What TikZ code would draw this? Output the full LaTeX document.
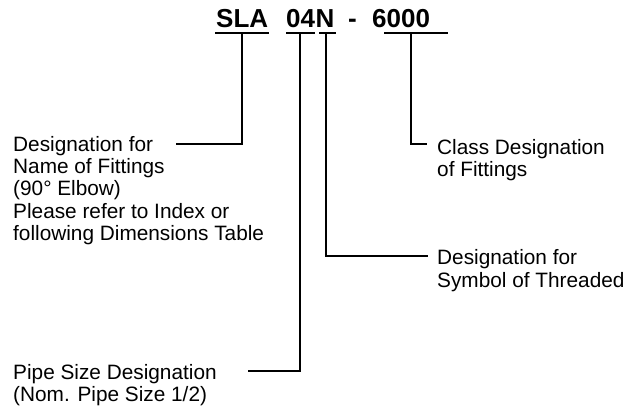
\documentclass[tikz,border=0pt]{standalone}
\usepackage{fontspec}
\setmainfont{Liberation Sans}
\tikzset{%
	codetext/.style = {font=\fontsize{26}{28}\selectfont\bfseries,inner sep=0,anchor=base west},
	desctext/.style = {font=\fontsize{20.8}{22.3}\selectfont,inner sep=0,align=left,anchor=north west},
	lead/.style = {line width=1.1pt}%
}
\begin{document}
\begin{tikzpicture}[x=1pt,y=-1pt]
			\useasboundingbox (0,0) rectangle (641,410);
			
			% designation code
			\node[codetext](sla)at(216,27){SLA};
			\node[codetext](size)at(286,27){04};
			\node[codetext](thread)at(size.base east){N};
			\node[codetext](dash)at(348,27){-};
			\node[codetext](class)at(372,27){6000};
			
			% descriptions
			\node[desctext](name)at(13,136){Designation for\\Name of Fittings\\(90° Elbow)\\Please refer to Index or\\following Dimensions Table};
			\node[desctext](classdesc)at(437,139){Class Designation\\of Fittings};
			\node[desctext](threaddesc)at(437,249.5){Designation for\\Symbol of Threaded};
			\node[desctext](sizedesc)at(13,364){Pipe Size Designation\\(Nom. Pipe Size 1/2)};
			
			% underlines
			\coordinate(sla-a)at(215,33);   \coordinate(sla-b)at(269,33);   \coordinate(sla-m)at(242,33);
			\coordinate(size-a)at(286,33);  \coordinate(size-b)at(315,33);  \coordinate(size-m)at(300,33);
			\coordinate(thread-a)at(319,33);\coordinate(thread-b)at(336,33);\coordinate(thread-m)at(326,33);
			\coordinate(class-a)at(384,33); \coordinate(class-b)at(448,33); \coordinate(class-m)at(411,33);
			\draw[lead](sla-a)--(sla-b);
			\draw[lead](size-a)--(size-b);
			\draw[lead](thread-a)--(thread-b);
			\draw[lead](class-a)--(class-b);
			
			% leaders
			\coordinate(name-end)at(176,144);
			\coordinate(size-end)at(248,371);
			\coordinate(thread-end)at(428,256);
			\coordinate(class-end)at(427,144);
			\draw[lead](sla-m)|-(name-end);
			\draw[lead](size-m)|-(size-end);
			\draw[lead](thread-m)|-(thread-end);
			\draw[lead](class-m)|-(class-end);
\end{tikzpicture}
\end{document}
